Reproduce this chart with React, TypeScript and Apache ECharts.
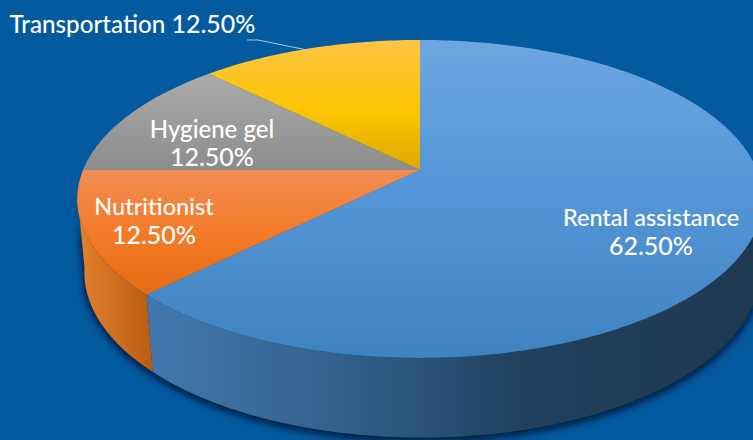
import React, { useEffect, useRef } from "react";
import * as echarts from "echarts";

const names = ["Rental assistance", "Nutritionist", "Hygiene gel", "Transportation"];
const shares = [62.5, 12.5, 12.5, 12.5];

const W = 753;
const H = 440;
const BG = "#035a9f";
const FONT = "Lato, 'Open Sans', sans-serif";
const K = 0.182;
const TOP = { cx: 420, cy: 170, a: 337, b: 153.7 };
const BOTTOM = { cx: 422, cy: 242, a: 332, b: 160 };
const WALL_FROM = 100;
const WALL_TO = 261;

const stop = (offset: number, color: string) => ({ offset, color });
const topFills = [
  [stop(0, "#6ea6e0"), stop(0.45, "#5597d8"), stop(1, "#3f82c0")],
  [stop(0, "#f18d55"), stop(0.5, "#f47b28"), stop(1, "#e36c14")],
  [stop(0, "#ababab"), stop(1, "#8d8d8d")],
  [stop(0, "#fdc544"), stop(0.55, "#fcc400"), stop(1, "#dca900")],
];
const wallFills = [
  [stop(0, "#4379ae"), stop(0.35, "#2f5d88"), stop(0.6, "#21415f"), stop(1, "#1e3850")],
  [stop(0, "#e2822f"), stop(1, "#bb5c11")],
  [stop(0, "#777777"), stop(1, "#666666")],
  [stop(0, "#c99a00"), stop(1, "#b08600")],
];
const labelSpots = [
  { x: 651, y: 231, nameSize: 23.5 },
  { x: 154, y: 220, nameSize: 23.5 },
  { x: 212, y: 142, nameSize: 24 },
  { x: 132.5, y: 23, nameSize: 24.2 },
];
const PCT_SIZE = 25;
const leader = [[247, 40], [258, 40], [307, 50]];

type Ring = typeof TOP;
const pt = (r: Ring, deg: number) => {
  const t = (deg * Math.PI) / 180;
  const u = Math.sin(t);
  const v = Math.cos(t);
  const d = 1 + K * v;
  return [r.cx + (r.a * u) / d, r.cy - (r.b * v) / d];
};
const arc = (r: Ring, from: number, to: number) => {
  const out: number[][] = [];
  const n = Math.max(2, Math.ceil(Math.abs(to - from)));
  for (let i = 0; i <= n; i++) out.push(pt(r, from + ((to - from) * i) / n));
  return out;
};

const total = shares.reduce((s, x) => s + x, 0);
const startOf = (idx: number) =>
  (shares.slice(0, idx).reduce((s, x) => s + x, 0) / total) * 360;

const wallPoints = (idx: number, value: number) => {
  const from = Math.max(startOf(idx), WALL_FROM);
  const to = Math.min(startOf(idx) + (value / total) * 360, WALL_TO);
  if (to <= from) return null;
  return [...arc(TOP, from, to), ...arc(BOTTOM, to, from)];
};

export default function App() {
  const ref = useRef<HTMLDivElement>(null);
  useEffect(() => {
    document.body.style.margin = "0";
    const chart = echarts.init(ref.current!, null, { renderer: "svg", width: W, height: H });
    const data = shares.map((value, i) => ({ value, name: names[i] }));
    const richStyle = (fontSize: number) => ({
      fill: "#ffffff",
      fontFamily: FONT,
      fontSize,
      fontWeight: 500,
      lineHeight: 28,
    });
    chart.setOption({
      animation: false,
      backgroundColor: BG,
      series: [
        {
          type: "custom",
          coordinateSystem: "none",
          silent: true,
          z: 1,
          data,
          renderItem: (p: any, api: any) => {
            const pts = wallPoints(p.dataIndex, api.value(0));
            if (!pts) return { type: "group", children: [] };
            return {
              type: "polygon",
              shape: { points: pts },
              style: {
                fill: "#032c50",
                shadowBlur: 8,
                shadowColor: "rgba(0,15,40,1)",
                shadowOffsetX: 0,
                shadowOffsetY: 3,
              },
            };
          },
        },
        {
          type: "custom",
          coordinateSystem: "none",
          silent: true,
          z: 2,
          data,
          renderItem: (p: any, api: any) => {
            const i = p.dataIndex;
            const value = api.value(0);
            const start = startOf(i);
            const end = start + (value / total) * 360;
            const children: any[] = [];
            const wall = wallPoints(i, value);
            if (wall) {
              children.push({
                type: "polygon",
                shape: { points: wall },
                style: { fill: new echarts.graphic.LinearGradient(0, 0, 1, 0, wallFills[i]) },
              });
            }
            children.push({
              type: "polygon",
              shape: { points: [[TOP.cx, TOP.cy], ...arc(TOP, start, end)] },
              style: { fill: new echarts.graphic.LinearGradient(0, 0, 0, 1, topFills[i]) },
            });
            return { type: "group", children };
          },
        },
        {
          type: "custom",
          coordinateSystem: "none",
          silent: true,
          z: 3,
          data,
          renderItem: (p: any, api: any) => {
            const i = p.dataIndex;
            const pct = `${api.value(0).toFixed(2)}%`;
            const oneLine = i === 3;
            const spot = labelSpots[i];
            const children: any[] = [
              {
                type: "text",
                x: spot.x,
                y: spot.y,
                style: {
                  text: oneLine ? `{n|${names[i]} }{p|${pct}}` : `{n|${names[i]}}\n{p|${pct}}`,
                  rich: { n: richStyle(spot.nameSize), p: richStyle(PCT_SIZE) },
                  align: "center",
                  verticalAlign: "middle",
                },
              },
            ];
            if (oneLine) {
              children.push({
                type: "polyline",
                shape: { points: leader },
                style: { stroke: "#a9c4da", lineWidth: 1, fill: "none" },
              });
            }
            return { type: "group", children };
          },
        },
      ],
    });
    return () => chart.dispose();
  }, []);
  return <div ref={ref} style={{ position: "fixed", left: 0, top: 0, width: W, height: H }} />;
}
